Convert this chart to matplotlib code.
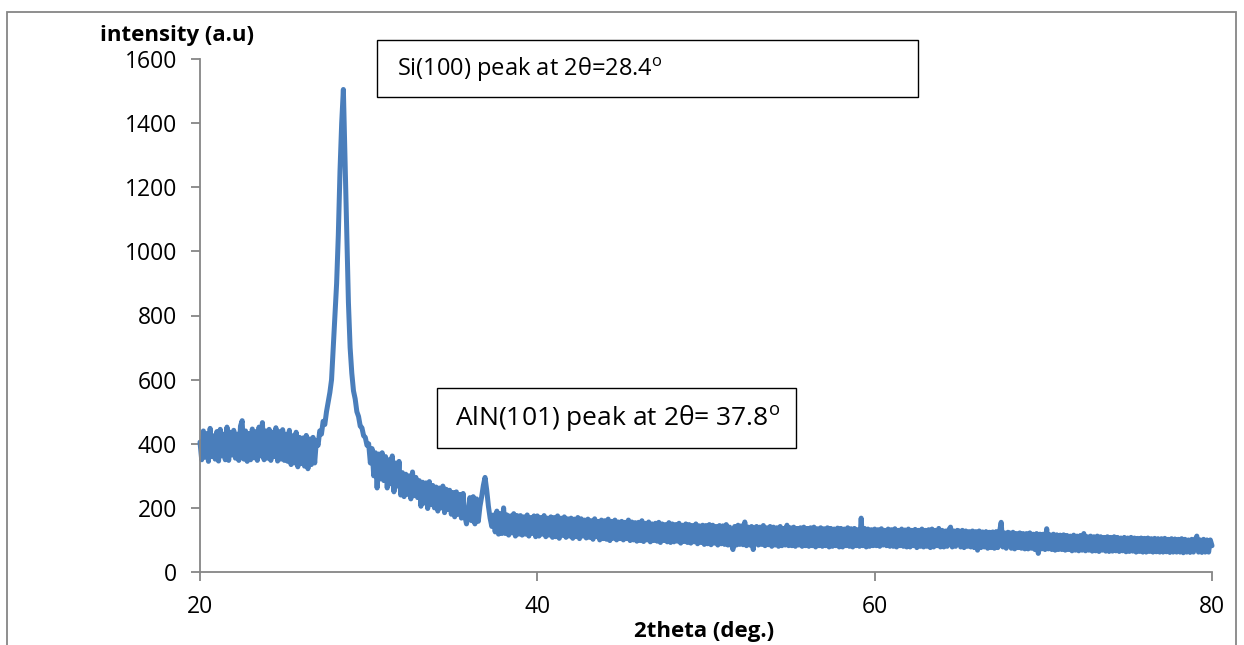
"""XRD pattern of an AlN film on Si, re-drawn in the Excel chart style."""

import numpy as np
import matplotlib

matplotlib.use("Agg")
import matplotlib.pyplot as plt
from matplotlib.patches import Rectangle

# 2theta grid: 20.0 .. 80.0 in 0.1 deg steps (one row per degree below)
theta_start, theta_step = 20.0, 0.1

intensity = [
    # 20
    405, 350, 440, 358, 432, 345, 448, 360, 425, 352,
    # 21
    438, 346, 445, 362, 430, 350, 452, 348, 436, 365,
    # 22
    442, 355, 430, 348, 455, 472, 352, 440, 345, 432,
    # 23
    350, 446, 356, 438, 348, 452, 362, 466, 350, 440,
    # 24
    355, 445, 348, 436, 360, 450, 346, 438, 352, 444,
    # 25
    348, 430, 345, 442, 335, 425, 340, 436, 328, 420,
    # 26
    338, 418, 330, 426, 322, 415, 335, 420, 340, 410,
    # 27
    395, 440, 430, 470, 460, 500, 530, 560, 600, 700,
    # 28
    800, 900, 1050, 1250, 1400, 1505, 1280, 1050, 840, 700,
    # 29
    620, 565, 540, 500, 485, 455, 450, 425, 420, 395,
    # 30
    400, 340, 385, 300, 372, 262, 368, 290, 372, 285,
    # 31
    360, 262, 350, 275, 362, 250, 340, 268, 345, 240,
    # 32
    310, 235, 305, 242, 300, 228, 312, 238, 295, 232,
    # 33
    285, 205, 280, 215, 278, 198, 282, 210, 270, 200,
    # 34
    265, 190, 262, 200, 268, 185, 258, 195, 255, 180,
    # 35
    248, 172, 250, 180, 242, 168, 245, 175, 150, 178,
    # 36
    232, 160, 235, 150, 228, 158, 205, 235, 270, 295,
    # 37
    255, 205, 168, 142, 178, 125, 190, 118, 182, 120,
    # 38
    200, 120, 178, 115, 175, 122, 182, 112, 176, 118,
    # 39
    176, 115, 172, 118, 178, 112, 170, 120, 175, 110,
    # 40
    175, 112, 170, 118, 176, 110, 168, 115, 172, 108,
    # 41
    170, 110, 175, 105, 168, 114, 172, 108, 166, 112,
    # 42
    168, 105, 165, 110, 170, 104, 166, 112, 162, 106,
    # 43
    165, 108, 160, 102, 166, 110, 158, 100, 162, 104,
    # 44
    160, 102, 165, 98, 158, 105, 162, 100, 156, 104,
    # 45
    158, 100, 155, 104, 162, 98, 156, 100, 154, 96,
    # 46
    155, 98, 160, 95, 152, 100, 156, 94, 150, 98,
    # 47
    152, 96, 155, 92, 150, 98, 148, 94, 154, 92,
    # 48
    150, 94, 148, 96, 152, 90, 146, 95, 150, 92,
    # 49
    148, 90, 145, 94, 150, 88, 144, 92, 146, 86,
    # 50
    145, 88, 148, 85, 146, 90, 142, 84, 145, 88,
    # 51
    144, 86, 148, 84, 140, 88, 70, 142, 84, 146,
    # 52
    86, 144, 85, 156, 82, 140, 84, 142, 70, 138,
    # 53
    142, 84, 140, 86, 145, 82, 138, 85, 142, 80,
    # 54
    140, 84, 138, 80, 142, 82, 136, 84, 146, 82,
    # 55
    138, 82, 140, 80, 136, 84, 138, 80, 140, 82,
    # 56
    136, 80, 138, 82, 140, 78, 135, 82, 138, 80,
    # 57
    135, 82, 138, 78, 136, 80, 134, 82, 137, 78,
    # 58
    136, 78, 134, 82, 138, 80, 135, 78, 136, 82,
    # 59
    132, 80, 168, 82, 136, 78, 134, 80, 132, 82,
    # 60
    134, 82, 132, 80, 135, 84, 130, 82, 134, 80,
    # 61
    132, 80, 135, 78, 130, 82, 134, 80, 131, 78,
    # 62
    134, 78, 130, 82, 133, 76, 130, 80, 134, 78,
    # 63
    130, 80, 132, 76, 134, 78, 130, 82, 136, 78,
    # 64
    130, 78, 128, 80, 132, 140, 78, 128, 80, 130,
    # 65
    128, 78, 130, 76, 128, 80, 126, 78, 128, 76,
    # 66
    126, 68, 128, 76, 125, 78, 126, 74, 124, 76,
    # 67
    125, 74, 126, 76, 124, 155, 78, 122, 74, 124,
    # 68
    122, 74, 124, 72, 120, 76, 122, 74, 120, 72,
    # 69
    120, 72, 122, 74, 118, 70, 120, 58, 118, 72,
    # 70
    118, 70, 135, 72, 116, 70, 118, 68, 116, 70,
    # 71
    115, 70, 116, 68, 114, 70, 112, 66, 115, 68,
    # 72
    112, 66, 114, 68, 120, 66, 110, 68, 112, 65,
    # 73
    110, 66, 112, 64, 110, 68, 108, 65, 110, 64,
    # 74
    108, 65, 110, 66, 108, 64, 106, 66, 108, 63,
    # 75
    106, 64, 108, 65, 106, 62, 105, 64, 106, 62,
    # 76
    105, 62, 106, 64, 104, 62, 105, 63, 104, 62,
    # 77
    104, 62, 105, 63, 102, 61, 104, 62, 103, 62,
    # 78
    102, 62, 104, 60, 102, 62, 100, 61, 102, 62,
    # 79
    100, 112, 62, 100, 61, 102, 62, 100, 62, 100,
    # 80
    82,
]
two_theta = theta_start + theta_step * np.arange(len(intensity))

x_ticks = [20, 40, 60, 80]
y_ticks = list(range(0, 1601, 200))

si_label = r"Si(100) peak at 2θ=28.4$^\mathrm{o}$"
aln_label = r"AlN(101) peak at 2θ= 37.8$^\mathrm{o}$"

W, H = 1244, 645
FONT = "Open Sans"
plt.rcParams["font.family"] = [FONT, "DejaVu Sans"]
plt.rcParams["mathtext.fontset"] = "custom"
plt.rcParams["mathtext.rm"] = FONT

grey = "#868686"
blue = "#4a7ebb"


def fx(px):
    return px / W


def fy(py):
    return 1 - py / H


fig = plt.figure(figsize=(W / 100, H / 100), dpi=100)
ax = fig.add_axes([fx(200), fy(572), fx(1212) - fx(200), fy(59) - fy(572)])

ax.plot(two_theta, intensity, color=blue, lw=3.6, solid_joinstyle="round",
        solid_capstyle="round", clip_on=False)

ax.set_xlim(20, 80)
ax.set_ylim(0, 1600)
ax.set_xticks(x_ticks)
ax.set_yticks(y_ticks)
for s in ("top", "right"):
    ax.spines[s].set_visible(False)
for s in ("left", "bottom"):
    ax.spines[s].set_color(grey)
    ax.spines[s].set_linewidth(1.3)
ax.tick_params(direction="out", length=6.5, width=1.3, color=grey,
               labelsize=16.5, pad=10, labelcolor="black")

fig.text(fx(100), fy(36), "intensity (a.u)", fontsize=16, fontweight="bold",
         ha="left", va="center")
fig.text(fx(704), fy(631), "2theta (deg.)", fontsize=16, fontweight="bold",
         ha="center", va="center")

# annotation boxes
fig.patches.append(Rectangle((fx(377), fy(97)), fx(918) - fx(377), fy(40) - fy(97),
                             transform=fig.transFigure, fill=False, ec="black", lw=1))
fig.text(fx(397), fy(70), si_label, fontsize=17, ha="left", va="center")
fig.patches.append(Rectangle((fx(437), fy(448)), fx(796) - fx(437), fy(388) - fy(448),
                             transform=fig.transFigure, fill=False, ec="black", lw=1))
fig.text(fx(455), fy(419), aln_label, fontsize=19, ha="left", va="center")

# chart-area border
fig.patches.append(Rectangle((fx(7), fy(660)), fx(1236) - fx(7), fy(12) - fy(660),
                             transform=fig.transFigure, fill=False, ec=grey, lw=1.3,
                             clip_on=False))

fig.savefig("out.png", dpi=100, facecolor="white")
